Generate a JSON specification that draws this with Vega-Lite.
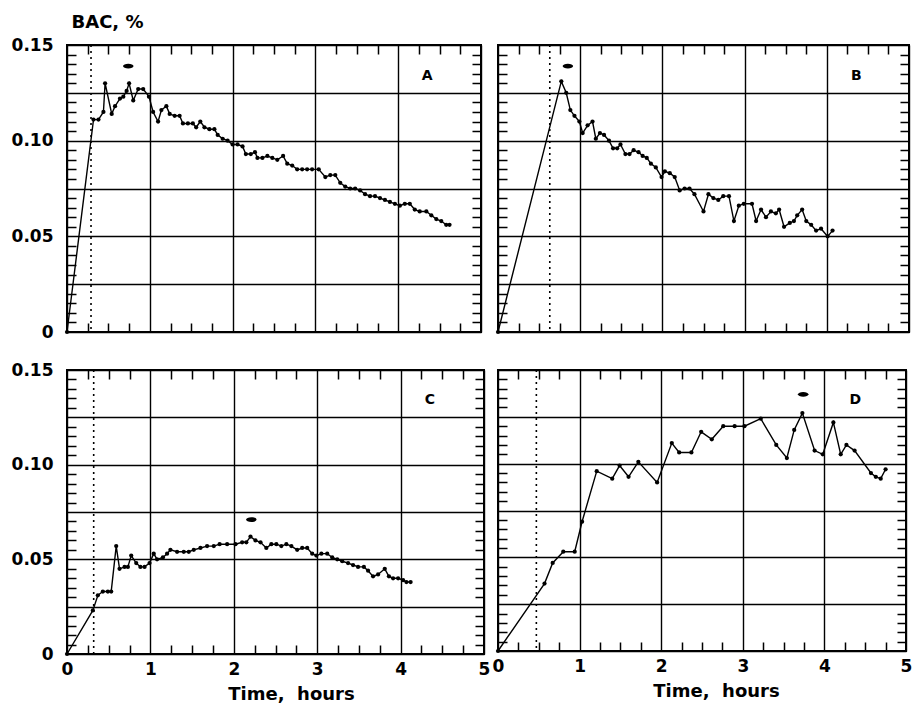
{
  "$schema": "https://vega.github.io/schema/vega-lite/v6.json",
  "padding": {"left": 10, "top": 12, "right": 4, "bottom": 0},
  "background": "white",
  "config": {
    "font": "DejaVu Sans",
    "view": {"stroke": "black", "strokeWidth": 2},
    "axis": {
      "domain": false, "ticks": false,
      "gridColor": "black", "gridWidth": 1.4, "gridOpacity": 1,
      "labelFont": "DejaVu Sans", "labelFontWeight": "bold", "labelFontSize": 17, "labelColor": "black",
      "titleFont": "DejaVu Sans", "titleFontWeight": "bold", "titleFontSize": 18, "titleColor": "black"
    }
  },
  "datasets": {
    "bac": [
      {"p":"A","t":0,"v":0},{"p":"A","t":0.32,"v":0.111},{"p":"A","t":0.38,"v":0.111},{"p":"A","t":0.44,"v":0.115},{"p":"A","t":0.46,"v":0.130},{"p":"A","t":0.54,"v":0.114},{"p":"A","t":0.58,"v":0.118},{"p":"A","t":0.64,"v":0.122},{"p":"A","t":0.68,"v":0.123},{"p":"A","t":0.72,"v":0.126},{"p":"A","t":0.75,"v":0.130},{"p":"A","t":0.80,"v":0.121},{"p":"A","t":0.86,"v":0.127},{"p":"A","t":0.92,"v":0.127},{"p":"A","t":0.99,"v":0.123},{"p":"A","t":1.04,"v":0.115},{"p":"A","t":1.10,"v":0.110},{"p":"A","t":1.14,"v":0.116},{"p":"A","t":1.20,"v":0.118},{"p":"A","t":1.24,"v":0.114},{"p":"A","t":1.30,"v":0.113},{"p":"A","t":1.36,"v":0.113},{"p":"A","t":1.40,"v":0.109},{"p":"A","t":1.46,"v":0.109},{"p":"A","t":1.52,"v":0.109},{"p":"A","t":1.56,"v":0.107},{"p":"A","t":1.61,"v":0.110},{"p":"A","t":1.66,"v":0.107},{"p":"A","t":1.72,"v":0.106},{"p":"A","t":1.78,"v":0.106},{"p":"A","t":1.82,"v":0.103},{"p":"A","t":1.88,"v":0.101},{"p":"A","t":1.94,"v":0.100},{"p":"A","t":2.00,"v":0.098},{"p":"A","t":2.06,"v":0.098},{"p":"A","t":2.12,"v":0.097},{"p":"A","t":2.16,"v":0.093},{"p":"A","t":2.22,"v":0.093},{"p":"A","t":2.27,"v":0.094},{"p":"A","t":2.30,"v":0.091},{"p":"A","t":2.36,"v":0.091},{"p":"A","t":2.42,"v":0.092},{"p":"A","t":2.48,"v":0.091},{"p":"A","t":2.54,"v":0.090},{"p":"A","t":2.61,"v":0.092},{"p":"A","t":2.66,"v":0.088},{"p":"A","t":2.72,"v":0.087},{"p":"A","t":2.78,"v":0.085},{"p":"A","t":2.84,"v":0.085},{"p":"A","t":2.90,"v":0.085},{"p":"A","t":2.96,"v":0.085},{"p":"A","t":3.04,"v":0.085},{"p":"A","t":3.12,"v":0.081},{"p":"A","t":3.18,"v":0.082},{"p":"A","t":3.24,"v":0.082},{"p":"A","t":3.30,"v":0.078},{"p":"A","t":3.36,"v":0.076},{"p":"A","t":3.42,"v":0.075},{"p":"A","t":3.48,"v":0.075},{"p":"A","t":3.54,"v":0.074},{"p":"A","t":3.60,"v":0.072},{"p":"A","t":3.66,"v":0.071},{"p":"A","t":3.72,"v":0.071},{"p":"A","t":3.78,"v":0.070},{"p":"A","t":3.84,"v":0.069},{"p":"A","t":3.90,"v":0.068},{"p":"A","t":3.96,"v":0.067},{"p":"A","t":4.02,"v":0.066},{"p":"A","t":4.08,"v":0.067},{"p":"A","t":4.14,"v":0.067},{"p":"A","t":4.20,"v":0.064},{"p":"A","t":4.26,"v":0.063},{"p":"A","t":4.34,"v":0.063},{"p":"A","t":4.40,"v":0.061},{"p":"A","t":4.46,"v":0.059},{"p":"A","t":4.52,"v":0.058},{"p":"A","t":4.58,"v":0.056},{"p":"A","t":4.62,"v":0.056},
      {"p":"B","t":0,"v":0},{"p":"B","t":0.77,"v":0.131},{"p":"B","t":0.83,"v":0.125},{"p":"B","t":0.88,"v":0.116},{"p":"B","t":0.93,"v":0.113},{"p":"B","t":0.99,"v":0.110},{"p":"B","t":1.03,"v":0.104},{"p":"B","t":1.09,"v":0.108},{"p":"B","t":1.15,"v":0.110},{"p":"B","t":1.19,"v":0.101},{"p":"B","t":1.24,"v":0.104},{"p":"B","t":1.29,"v":0.103},{"p":"B","t":1.35,"v":0.100},{"p":"B","t":1.40,"v":0.096},{"p":"B","t":1.45,"v":0.096},{"p":"B","t":1.49,"v":0.098},{"p":"B","t":1.55,"v":0.093},{"p":"B","t":1.60,"v":0.093},{"p":"B","t":1.65,"v":0.095},{"p":"B","t":1.71,"v":0.094},{"p":"B","t":1.76,"v":0.092},{"p":"B","t":1.81,"v":0.091},{"p":"B","t":1.86,"v":0.088},{"p":"B","t":1.92,"v":0.086},{"p":"B","t":1.99,"v":0.081},{"p":"B","t":2.03,"v":0.084},{"p":"B","t":2.09,"v":0.083},{"p":"B","t":2.15,"v":0.081},{"p":"B","t":2.21,"v":0.074},{"p":"B","t":2.27,"v":0.075},{"p":"B","t":2.33,"v":0.075},{"p":"B","t":2.39,"v":0.072},{"p":"B","t":2.50,"v":0.063},{"p":"B","t":2.56,"v":0.072},{"p":"B","t":2.62,"v":0.070},{"p":"B","t":2.68,"v":0.069},{"p":"B","t":2.74,"v":0.071},{"p":"B","t":2.81,"v":0.071},{"p":"B","t":2.87,"v":0.058},{"p":"B","t":2.93,"v":0.066},{"p":"B","t":2.99,"v":0.067},{"p":"B","t":3.09,"v":0.067},{"p":"B","t":3.14,"v":0.058},{"p":"B","t":3.20,"v":0.064},{"p":"B","t":3.26,"v":0.060},{"p":"B","t":3.32,"v":0.063},{"p":"B","t":3.38,"v":0.062},{"p":"B","t":3.42,"v":0.064},{"p":"B","t":3.48,"v":0.055},{"p":"B","t":3.55,"v":0.057},{"p":"B","t":3.60,"v":0.058},{"p":"B","t":3.64,"v":0.061},{"p":"B","t":3.70,"v":0.064},{"p":"B","t":3.75,"v":0.058},{"p":"B","t":3.81,"v":0.056},{"p":"B","t":3.87,"v":0.053},{"p":"B","t":3.93,"v":0.054},{"p":"B","t":4.01,"v":0.050},{"p":"B","t":4.07,"v":0.053},
      {"p":"C","t":0,"v":0},{"p":"C","t":0.31,"v":0.023},{"p":"C","t":0.37,"v":0.031},{"p":"C","t":0.43,"v":0.033},{"p":"C","t":0.49,"v":0.033},{"p":"C","t":0.53,"v":0.033},{"p":"C","t":0.59,"v":0.057},{"p":"C","t":0.63,"v":0.045},{"p":"C","t":0.69,"v":0.046},{"p":"C","t":0.73,"v":0.046},{"p":"C","t":0.77,"v":0.052},{"p":"C","t":0.83,"v":0.048},{"p":"C","t":0.88,"v":0.046},{"p":"C","t":0.93,"v":0.046},{"p":"C","t":0.99,"v":0.048},{"p":"C","t":1.04,"v":0.053},{"p":"C","t":1.08,"v":0.050},{"p":"C","t":1.15,"v":0.051},{"p":"C","t":1.20,"v":0.053},{"p":"C","t":1.24,"v":0.055},{"p":"C","t":1.32,"v":0.054},{"p":"C","t":1.40,"v":0.054},{"p":"C","t":1.46,"v":0.054},{"p":"C","t":1.52,"v":0.055},{"p":"C","t":1.60,"v":0.056},{"p":"C","t":1.68,"v":0.057},{"p":"C","t":1.76,"v":0.057},{"p":"C","t":1.83,"v":0.058},{"p":"C","t":1.92,"v":0.058},{"p":"C","t":2.02,"v":0.058},{"p":"C","t":2.10,"v":0.059},{"p":"C","t":2.15,"v":0.059},{"p":"C","t":2.20,"v":0.062},{"p":"C","t":2.26,"v":0.060},{"p":"C","t":2.32,"v":0.059},{"p":"C","t":2.39,"v":0.056},{"p":"C","t":2.45,"v":0.058},{"p":"C","t":2.51,"v":0.058},{"p":"C","t":2.57,"v":0.057},{"p":"C","t":2.63,"v":0.058},{"p":"C","t":2.69,"v":0.057},{"p":"C","t":2.76,"v":0.055},{"p":"C","t":2.82,"v":0.056},{"p":"C","t":2.88,"v":0.056},{"p":"C","t":2.94,"v":0.053},{"p":"C","t":2.99,"v":0.052},{"p":"C","t":3.05,"v":0.053},{"p":"C","t":3.12,"v":0.053},{"p":"C","t":3.18,"v":0.051},{"p":"C","t":3.24,"v":0.050},{"p":"C","t":3.30,"v":0.049},{"p":"C","t":3.37,"v":0.048},{"p":"C","t":3.43,"v":0.047},{"p":"C","t":3.49,"v":0.046},{"p":"C","t":3.56,"v":0.046},{"p":"C","t":3.61,"v":0.044},{"p":"C","t":3.67,"v":0.041},{"p":"C","t":3.73,"v":0.042},{"p":"C","t":3.81,"v":0.045},{"p":"C","t":3.86,"v":0.041},{"p":"C","t":3.91,"v":0.040},{"p":"C","t":3.97,"v":0.040},{"p":"C","t":4.03,"v":0.039},{"p":"C","t":4.07,"v":0.038},{"p":"C","t":4.12,"v":0.038},
      {"p":"D","t":0,"v":0},{"p":"D","t":0.57,"v":0.036},{"p":"D","t":0.67,"v":0.047},{"p":"D","t":0.80,"v":0.053},{"p":"D","t":0.94,"v":0.053},{"p":"D","t":1.03,"v":0.069},{"p":"D","t":1.21,"v":0.096},{"p":"D","t":1.40,"v":0.092},{"p":"D","t":1.49,"v":0.099},{"p":"D","t":1.60,"v":0.093},{"p":"D","t":1.72,"v":0.101},{"p":"D","t":1.95,"v":0.090},{"p":"D","t":2.13,"v":0.111},{"p":"D","t":2.22,"v":0.106},{"p":"D","t":2.37,"v":0.106},{"p":"D","t":2.49,"v":0.117},{"p":"D","t":2.62,"v":0.113},{"p":"D","t":2.76,"v":0.120},{"p":"D","t":2.90,"v":0.120},{"p":"D","t":3.02,"v":0.120},{"p":"D","t":3.22,"v":0.124},{"p":"D","t":3.41,"v":0.110},{"p":"D","t":3.54,"v":0.103},{"p":"D","t":3.63,"v":0.118},{"p":"D","t":3.73,"v":0.127},{"p":"D","t":3.88,"v":0.107},{"p":"D","t":3.98,"v":0.105},{"p":"D","t":4.11,"v":0.122},{"p":"D","t":4.20,"v":0.105},{"p":"D","t":4.27,"v":0.110},{"p":"D","t":4.37,"v":0.107},{"p":"D","t":4.57,"v":0.095},{"p":"D","t":4.63,"v":0.093},{"p":"D","t":4.69,"v":0.092},{"p":"D","t":4.75,"v":0.097}
    ],
    "ann": [
      {"p":"A","dot":0.29,"ex":0.74,"ey":0.139,"lx":4.35,"ly":0.134,"lab":"A"},
      {"p":"B","dot":0.63,"ex":0.85,"ey":0.139,"lx":4.36,"ly":0.134,"lab":"B"},
      {"p":"C","dot":0.32,"ex":2.21,"ey":0.071,"lx":4.35,"ly":0.134,"lab":"C"},
      {"p":"D","dot":0.47,"ex":3.74,"ey":0.137,"lx":4.38,"ly":0.134,"lab":"D"}
    ]
  },
  "columns": 2,
  "bounds": "flush",
  "align": "none",
  "spacing": {"row": 38, "column": 14},
  "concat": [
    {
      "width": 414, "height": 287,
      "resolve": {"axis": {"x": "independent", "y": "independent"}},
      "layer": [
        {
          "data": {"name": "bac"}, "transform": [{"filter": "datum.p === 'A'"}],
          "mark": {"type": "line", "color": "black", "strokeWidth": 1.4, "point": {"filled": true, "color": "black", "size": 18}},
          "encoding": {
            "x": {"field": "t", "type": "quantitative", "scale": {"domain": [0, 5], "nice": false},
              "axis": {"orient": "bottom", "values": [0,1,2,3,4,5], "grid": true, "labels": false, "title": null}},
            "y": {"field": "v", "type": "quantitative", "scale": {"domain": [0, 0.15], "nice": false},
              "axis": {"orient": "left", "values": [0,0.025,0.05,0.075,0.1,0.125,0.15], "grid": true, "labelExpr": "abs(datum.value*20 - round(datum.value*20)) < 0.01 ? (datum.value < 0.001 ? '0' : format(datum.value, '.2f')) : ''", "labelOverlap": false, "labelFlush": false, "labelPadding": 14, "title": "BAC, %", "titleAngle": 0, "titleAlign": "left", "titleBaseline": "alphabetic", "titleX": 4, "titleY": -18}}
          }
        },
        {
          "data": {"name": "ann"}, "transform": [{"filter": "datum.p === 'A'"}],
          "mark": {"type": "rule", "color": "black", "strokeWidth": 1.6, "strokeDash": [2, 4]},
          "encoding": {"x": {"field": "dot", "type": "quantitative",
            "axis": {"orient": "top", "values": [0.25,0.5,0.75,1.25,1.5,1.75,2.25,2.5,2.75,3.25,3.5,3.75,4.25,4.5,4.75], "grid": true, "gridDash": [9, 269], "gridWidth": 1.5, "labels": false, "title": null}}}
        },
        {
          "data": {"name": "ann"}, "transform": [{"filter": "datum.p === 'A'"}],
          "mark": {"type": "point", "shape": "M-1,0A1,0.45,0,1,0,1,0A1,0.45,0,1,0,-1,0Z", "filled": true, "color": "black", "size": 110, "opacity": 1},
          "encoding": {
            "x": {"field": "ex", "type": "quantitative", "axis": null},
            "y": {"field": "ey", "type": "quantitative", "axis": {"orient": "right", "values": [0.005,0.01,0.015,0.02,0.03,0.035,0.04,0.045,0.055,0.06,0.065,0.07,0.08,0.085,0.09,0.095,0.105,0.11,0.115,0.12,0.13,0.135,0.14,0.145], "grid": true, "gridDash": [9, 396], "gridWidth": 1.5, "labels": false, "title": null}}
          }
        },
        {
          "data": {"name": "ann"}, "transform": [{"filter": "datum.p === 'A'"}],
          "mark": {"type": "text", "font": "DejaVu Sans", "fontWeight": "bold", "fontSize": 14, "color": "black"},
          "encoding": {
            "x": {"field": "lx", "type": "quantitative", "axis": null},
            "y": {"field": "ly", "type": "quantitative", "axis": null},
            "text": {"field": "lab"}
          }
        }
      ]
    },
    {
      "width": 411, "height": 287,
      "resolve": {"axis": {"x": "independent", "y": "independent"}},
      "layer": [
        {
          "data": {"name": "bac"}, "transform": [{"filter": "datum.p === 'B'"}],
          "mark": {"type": "line", "color": "black", "strokeWidth": 1.4, "point": {"filled": true, "color": "black", "size": 18}},
          "encoding": {
            "x": {"field": "t", "type": "quantitative", "scale": {"domain": [0, 5], "nice": false},
              "axis": {"orient": "bottom", "values": [0,1,2,3,4,5], "grid": true, "labels": false, "title": null}},
            "y": {"field": "v", "type": "quantitative", "scale": {"domain": [0, 0.15], "nice": false},
              "axis": {"orient": "left", "values": [0,0.025,0.05,0.075,0.1,0.125,0.15], "grid": true, "labels": false, "title": null}}
          }
        },
        {
          "data": {"name": "ann"}, "transform": [{"filter": "datum.p === 'B'"}],
          "mark": {"type": "rule", "color": "black", "strokeWidth": 1.6, "strokeDash": [2, 4]},
          "encoding": {"x": {"field": "dot", "type": "quantitative",
            "axis": {"orient": "top", "values": [0.25,0.5,0.75,1.25,1.5,1.75,2.25,2.5,2.75,3.25,3.5,3.75,4.25,4.5,4.75], "grid": true, "gridDash": [9, 269], "gridWidth": 1.5, "labels": false, "title": null}}}
        },
        {
          "data": {"name": "ann"}, "transform": [{"filter": "datum.p === 'B'"}],
          "mark": {"type": "point", "shape": "M-1,0A1,0.45,0,1,0,1,0A1,0.45,0,1,0,-1,0Z", "filled": true, "color": "black", "size": 110, "opacity": 1},
          "encoding": {
            "x": {"field": "ex", "type": "quantitative", "axis": null},
            "y": {"field": "ey", "type": "quantitative", "axis": {"orient": "right", "values": [0.005,0.01,0.015,0.02,0.03,0.035,0.04,0.045,0.055,0.06,0.065,0.07,0.08,0.085,0.09,0.095,0.105,0.11,0.115,0.12,0.13,0.135,0.14,0.145], "grid": true, "gridDash": [9, 393], "gridWidth": 1.5, "labels": false, "title": null}}
          }
        },
        {
          "data": {"name": "ann"}, "transform": [{"filter": "datum.p === 'B'"}],
          "mark": {"type": "text", "font": "DejaVu Sans", "fontWeight": "bold", "fontSize": 14, "color": "black"},
          "encoding": {
            "x": {"field": "lx", "type": "quantitative", "axis": null},
            "y": {"field": "ly", "type": "quantitative", "axis": null},
            "text": {"field": "lab"}
          }
        }
      ]
    },
    {
      "width": 417, "height": 284,
      "resolve": {"axis": {"x": "independent", "y": "independent"}},
      "layer": [
        {
          "data": {"name": "bac"}, "transform": [{"filter": "datum.p === 'C'"}],
          "mark": {"type": "line", "color": "black", "strokeWidth": 1.4, "point": {"filled": true, "color": "black", "size": 18}},
          "encoding": {
            "x": {"field": "t", "type": "quantitative", "scale": {"domain": [0, 5], "nice": false},
              "axis": {"orient": "bottom", "values": [0,1,2,3,4,5], "grid": true, "labelFlush": false, "labelOverlap": false, "labelPadding": 7, "title": "Time,\u00a0 hours", "titleX": 224, "titlePadding": 8}},
            "y": {"field": "v", "type": "quantitative", "scale": {"domain": [0, 0.15], "nice": false},
              "axis": {"orient": "left", "values": [0,0.025,0.05,0.075,0.1,0.125,0.15], "grid": true, "labelExpr": "abs(datum.value*20 - round(datum.value*20)) < 0.01 ? (datum.value < 0.001 ? '0' : format(datum.value, '.2f')) : ''", "labelOverlap": false, "labelFlush": false, "labelPadding": 14, "title": null}}
          }
        },
        {
          "data": {"name": "ann"}, "transform": [{"filter": "datum.p === 'C'"}],
          "mark": {"type": "rule", "color": "black", "strokeWidth": 1.6, "strokeDash": [2, 4]},
          "encoding": {"x": {"field": "dot", "type": "quantitative",
            "axis": {"orient": "top", "values": [0.25,0.5,0.75,1.25,1.5,1.75,2.25,2.5,2.75,3.25,3.5,3.75,4.25,4.5,4.75], "grid": true, "gridDash": [9, 266], "gridWidth": 1.5, "labels": false, "title": null}}}
        },
        {
          "data": {"name": "ann"}, "transform": [{"filter": "datum.p === 'C'"}],
          "mark": {"type": "point", "shape": "M-1,0A1,0.45,0,1,0,1,0A1,0.45,0,1,0,-1,0Z", "filled": true, "color": "black", "size": 110, "opacity": 1},
          "encoding": {
            "x": {"field": "ex", "type": "quantitative", "axis": null},
            "y": {"field": "ey", "type": "quantitative", "axis": {"orient": "right", "values": [0.005,0.01,0.015,0.02,0.03,0.035,0.04,0.045,0.055,0.06,0.065,0.07,0.08,0.085,0.09,0.095,0.105,0.11,0.115,0.12,0.13,0.135,0.14,0.145], "grid": true, "gridDash": [9, 399], "gridWidth": 1.5, "labels": false, "title": null}}
          }
        },
        {
          "data": {"name": "ann"}, "transform": [{"filter": "datum.p === 'C'"}],
          "mark": {"type": "text", "font": "DejaVu Sans", "fontWeight": "bold", "fontSize": 14, "color": "black"},
          "encoding": {
            "x": {"field": "lx", "type": "quantitative", "axis": null},
            "y": {"field": "ly", "type": "quantitative", "axis": null},
            "text": {"field": "lab"}
          }
        }
      ]
    },
    {
      "width": 408, "height": 281,
      "resolve": {"axis": {"x": "independent", "y": "independent"}},
      "layer": [
        {
          "data": {"name": "bac"}, "transform": [{"filter": "datum.p === 'D'"}],
          "mark": {"type": "line", "color": "black", "strokeWidth": 1.4, "point": {"filled": true, "color": "black", "size": 18}},
          "encoding": {
            "x": {"field": "t", "type": "quantitative", "scale": {"domain": [0, 5], "nice": false},
              "axis": {"orient": "bottom", "values": [0,1,2,3,4,5], "grid": true, "labelFlush": false, "labelOverlap": false, "labelPadding": 7, "title": "Time,\u00a0 hours", "titleX": 218, "titlePadding": 8}},
            "y": {"field": "v", "type": "quantitative", "scale": {"domain": [0, 0.15], "nice": false},
              "axis": {"orient": "left", "values": [0,0.025,0.05,0.075,0.1,0.125,0.15], "grid": true, "labels": false, "title": null}}
          }
        },
        {
          "data": {"name": "ann"}, "transform": [{"filter": "datum.p === 'D'"}],
          "mark": {"type": "rule", "color": "black", "strokeWidth": 1.6, "strokeDash": [2, 4]},
          "encoding": {"x": {"field": "dot", "type": "quantitative",
            "axis": {"orient": "top", "values": [0.25,0.5,0.75,1.25,1.5,1.75,2.25,2.5,2.75,3.25,3.5,3.75,4.25,4.5,4.75], "grid": true, "gridDash": [9, 263], "gridWidth": 1.5, "labels": false, "title": null}}}
        },
        {
          "data": {"name": "ann"}, "transform": [{"filter": "datum.p === 'D'"}],
          "mark": {"type": "point", "shape": "M-1,0A1,0.45,0,1,0,1,0A1,0.45,0,1,0,-1,0Z", "filled": true, "color": "black", "size": 110, "opacity": 1},
          "encoding": {
            "x": {"field": "ex", "type": "quantitative", "axis": null},
            "y": {"field": "ey", "type": "quantitative", "axis": {"orient": "right", "values": [0.005,0.01,0.015,0.02,0.03,0.035,0.04,0.045,0.055,0.06,0.065,0.07,0.08,0.085,0.09,0.095,0.105,0.11,0.115,0.12,0.13,0.135,0.14,0.145], "grid": true, "gridDash": [9, 390], "gridWidth": 1.5, "labels": false, "title": null}}
          }
        },
        {
          "data": {"name": "ann"}, "transform": [{"filter": "datum.p === 'D'"}],
          "mark": {"type": "text", "font": "DejaVu Sans", "fontWeight": "bold", "fontSize": 14, "color": "black"},
          "encoding": {
            "x": {"field": "lx", "type": "quantitative", "axis": null},
            "y": {"field": "ly", "type": "quantitative", "axis": null},
            "text": {"field": "lab"}
          }
        }
      ]
    }
  ]
}
